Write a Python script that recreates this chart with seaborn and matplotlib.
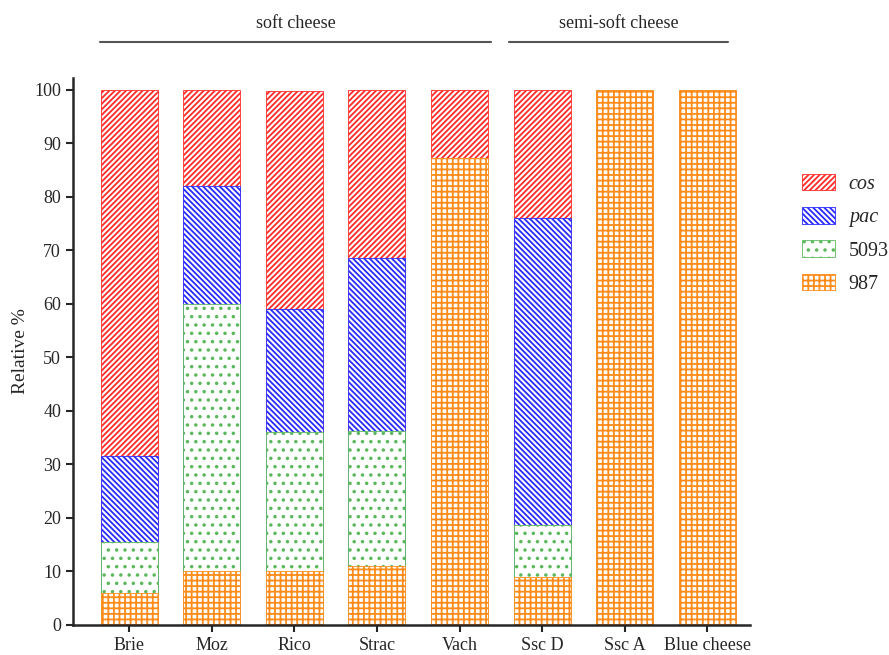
import matplotlib
matplotlib.use("Agg")
import matplotlib.pyplot as plt
import seaborn as sns
import pandas as pd
import numpy as np
from matplotlib.patches import Patch

categories = ["Brie", "Moz", "Rico", "Strac", "Vach", "Ssc D", "Ssc A", "Blue cheese"]
s987 = [6.0, 10.0, 10.0, 11.0, 87.3, 9.0, 100.0, 100.0]
s5093 = [9.5, 50.0, 26.0, 25.3, 0.0, 9.7, 0.0, 0.0]
spac = [16.0, 22.0, 23.0, 32.2, 0.0, 57.3, 0.0, 0.0]
scos = [68.5, 18.0, 40.8, 31.5, 12.7, 24.0, 0.0, 0.0]

series_names = ["cos", "pac", "5093", "987"]
colors = {"cos": "#ff2a2a", "pac": "#2a2aff", "5093": "#5cb85c", "987": "#ff8c1a"}
hatches = {"cos": "//////", "pac": "\\\\\\\\\\\\", "5093": "..", "987": "+++"}

sns.set_style("ticks")
plt.rcParams["font.family"] = ["Liberation Serif", "DejaVu Serif"]
plt.rcParams["hatch.linewidth"] = 1.3

fig = plt.figure(figsize=(8.89, 6.55), dpi=100)
ax = fig.add_axes([0.082, 0.046, 0.762, 0.835])

df = pd.DataFrame({"cat": categories, "987": s987, "5093": s5093, "pac": spac, "cos": scos})
order_bottom_up = ["987", "5093", "pac", "cos"]
cum = np.zeros(len(categories))
layers = []
for name in order_bottom_up:
    cum = cum + df[name].values
    layers.append((name, cum.copy()))

# draw tallest cumulative first so shorter ones overlay
for name, top in reversed(layers):
    before = len(ax.patches)
    sns.barplot(x=df["cat"], y=top, ax=ax, color="white", width=0.69,
                order=categories, errorbar=None, saturation=1)
    for p in ax.patches[before:]:
        p.set_facecolor("white")
        p.set_edgecolor(colors[name])
        p.set_hatch(hatches[name])
        p.set_linewidth(0.6)

ax.set_ylim(0, 102.2)
ax.set_xlim(-0.68, 7.52)
ax.set_yticks(range(0, 101, 10))
ax.set_ylabel("Relative %", fontsize=14)
ax.set_xlabel("")
ax.tick_params(axis="both", labelsize=13, width=1.5, length=5, direction="out")
for s in ["left", "bottom"]:
    ax.spines[s].set_linewidth(1.8)
sns.despine(ax=ax)

# group annotations
def group(x0, x1, label):
    ax.plot([x0, x1], [109, 109], color="#555555", lw=1.5, clip_on=False)
    ax.text((x0 + x1) / 2, 110.8, label, ha="center", va="bottom", fontsize=13)

group(-0.35, 4.38, "soft cheese")
group(4.6, 7.25, "semi-soft cheese")

handles = [Patch(facecolor="white", edgecolor=colors[n], hatch=hatches[n], linewidth=0.6)
           for n in series_names]
leg = ax.legend(handles, ["cos", "pac", "5093", "987"], loc="center left",
                bbox_to_anchor=(1.065, 0.715), frameon=False, fontsize=14.5,
                handlelength=1.6, handleheight=0.9, labelspacing=0.65,
                handletextpad=0.7, borderaxespad=0)
for t, n in zip(leg.get_texts(), series_names):
    if n in ("cos", "pac"):
        t.set_style("italic")

fig.savefig("out.png", dpi=100)
